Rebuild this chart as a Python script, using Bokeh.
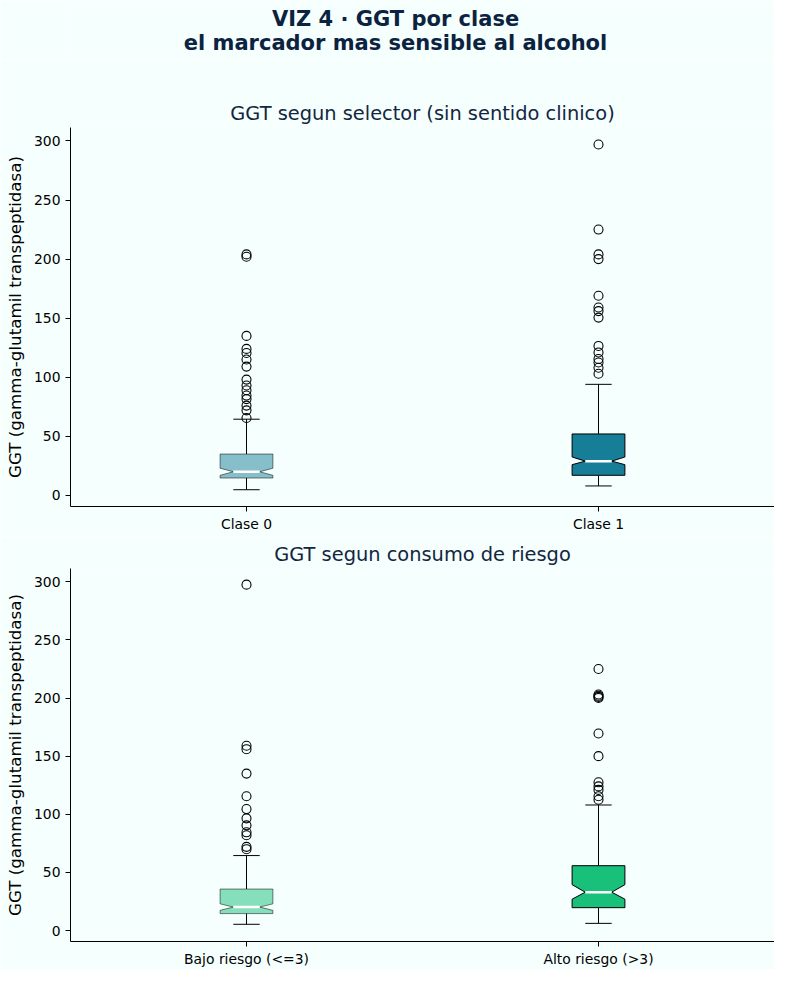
import numpy as np
from bokeh.plotting import figure
from bokeh.models import Range1d, FixedTicker, ColumnDataSource
from bokeh.layouts import column
from bokeh.embed import file_html
from bokeh.resources import INLINE
from bokeh.core.properties import value

# ---------------- data ----------------
sup_lines = ["VIZ 4 · GGT por clase", "el marcador mas sensible al alcohol"]
title_top = "GGT segun selector (sin sentido clinico)"
title_bot = "GGT segun consumo de riesgo"
ylabel = "GGT (gamma-glutamil transpeptidasa)"
yticks = [0, 50, 100, 150, 200, 250, 300]

cats_top = ["Clase 0", "Clase 1"]
q1_top = [14.7, 17.0]
med_top = [20.0, 29.0]
q3_top = [35.0, 52.0]
ci_lo_top = [17.0, 26.0]
ci_hi_top = [23.0, 32.5]
wlo_top = [4.8, 8.0]
whi_top = [64.5, 94.0]
out_clase0 = [204, 202, 135, 124, 120.5, 115, 109, 98, 93, 89, 84.5, 81.5, 76, 72, 65.5]
out_clase1 = [297, 225, 204, 200, 169, 159, 156, 150.5, 126.5, 121, 115.5, 112.5, 108, 103]

cats_bot = ["Bajo riesgo (<=3)", "Alto riesgo (>3)"]
q1_bot = [14.6, 19.7]
med_bot = [20.2, 33.0]
q3_bot = [35.7, 55.8]
ci_lo_bot = [17.4, 27.0]
ci_hi_bot = [23.0, 39.5]
wlo_bot = [5.4, 6.2]
whi_bot = [64.5, 108.0]
out_bajo = [297.5, 159, 156, 135, 115.5, 104.5, 96.5, 90.5, 84.5, 82, 72, 70]
out_alto = [225, 203, 202, 201, 200, 169.5, 150, 127.5, 124, 121, 115.5, 112.5]

# ---------------- styles ----------------
BG = "#f5fffd"
TITLE_C = "#0b2341"
SUB_C = "#13263f"
FONT = "DejaVu Sans"
W = 774
LEFT = 70
BOX_W = 0.15


def notch_box(pos, q1, med, q3, lo, hi, w=BOX_W):
    l, r = pos - w / 2, pos + w / 2
    cl, cr = pos - w / 4, pos + w / 4
    xs = [l, r, r, cr, r, r, l, l, cl, l, l]
    ys = [q1, q1, lo, med, hi, q3, q3, hi, med, lo, q1]
    return xs, ys


def make_panel(height, top_border, bottom_border, title, cats, q1, med, q3,
               cilo, cihi, wlo, whi, outs, fill, alphas):
    p = figure(width=W, height=height, x_range=Range1d(0.5, 2.5),
               y_range=Range1d(-9.4, 311.4), output_backend="svg",
               toolbar_location=None, min_border_left=LEFT, min_border_right=0,
               min_border_top=top_border, min_border_bottom=bottom_border,
               background_fill_color=BG, border_fill_color=BG,
               outline_line_color=None, title=title)
    p.title.align = "center"
    p.title.text_font = FONT
    p.title.text_font_size = "19.4px"
    p.title.text_font_style = "normal"
    p.title.text_color = SUB_C
    p.title.standoff = 6

    pos = np.arange(1, len(cats) + 1)
    for i, x0 in enumerate(pos):
        xs, ys = notch_box(x0, q1[i], med[i], q3[i], cilo[i], cihi[i])
        p.segment(x0=[x0, x0], y0=[q3[i], q1[i]], x1=[x0, x0], y1=[whi[i], wlo[i]],
                  line_color="black", line_width=1)
        p.segment(x0=[x0 - BOX_W / 4] * 2, y0=[whi[i], wlo[i]],
                  x1=[x0 + BOX_W / 4] * 2, y1=[whi[i], wlo[i]],
                  line_color="black", line_width=1)
        p.patch(xs, ys, fill_color=fill, fill_alpha=alphas[i],
                line_color="black", line_alpha=alphas[i], line_width=1)
        p.segment(x0=[x0 - BOX_W / 4], y0=[med[i]], x1=[x0 + BOX_W / 4], y1=[med[i]],
                  line_color="white", line_width=2.5)
        src = ColumnDataSource(dict(x=[x0] * len(outs[i]), y=outs[i]))
        p.scatter("x", "y", source=src, marker="circle", size=9,
                  fill_color=None, line_color="black", line_width=1.1)

    p.xaxis.ticker = FixedTicker(ticks=list(pos))
    p.xaxis.major_label_overrides = {int(k): c for k, c in zip(pos, cats)}
    p.yaxis.ticker = FixedTicker(ticks=yticks)
    p.yaxis.axis_label = ylabel
    p.yaxis.axis_label_text_font = FONT
    p.yaxis.axis_label_text_font_size = "16.7px"
    p.yaxis.axis_label_text_font_style = "normal"
    p.yaxis.axis_label_text_color = "black"
    p.yaxis.axis_label_standoff = 6
    for ax in (p.xaxis, p.yaxis):
        ax.major_tick_in = 0
        ax.major_tick_out = 5
        ax.minor_tick_line_color = None
        ax.axis_line_color = "black"
        ax.major_tick_line_color = "black"
        ax.major_label_text_font = FONT
        ax.major_label_text_font_size = "13.9px"
        ax.major_label_text_color = "black"
        ax.major_label_standoff = 5
    p.xaxis.major_label_standoff = 4
    p.xgrid.grid_line_color = None
    p.ygrid.grid_line_color = None
    return p


# ---------------- suptitle figure ----------------
H0 = 60
p0 = figure(width=W, height=H0, x_range=Range1d(LEFT, W), y_range=Range1d(0, H0),
            output_backend="svg", toolbar_location=None,
            x_axis_location=None, y_axis_location=None,
            min_border=0, min_border_left=LEFT, min_border_right=0,
            min_border_top=0, min_border_bottom=0,
            background_fill_color=BG, border_fill_color=BG,
            outline_line_color=None)
p0.xgrid.grid_line_color = None
p0.ygrid.grid_line_color = None
p0.text(x=[395, 395], y=[H0 - 18.7, H0 - 42.0], text=sup_lines,
        text_font=value(FONT), text_font_style="bold", text_font_size="21px",
        text_color=TITLE_C, text_align="center", text_baseline="alphabetic")

p1 = make_panel(476, 67, 30, title_top, cats_top, q1_top, med_top, q3_top,
                ci_lo_top, ci_hi_top, wlo_top, whi_top, [out_clase0, out_clase1],
                "#177e98", [0.5, 1.0])
p2 = make_panel(433, 32, 27, title_bot, cats_bot, q1_bot, med_bot, q3_bot,
                ci_lo_bot, ci_hi_bot, wlo_bot, whi_bot, [out_bajo, out_alto],
                "#18c07a", [0.5, 1.0])

layout = column(p0, p1, p2, spacing=0)
open("out.html", "w").write(file_html(layout, INLINE))
